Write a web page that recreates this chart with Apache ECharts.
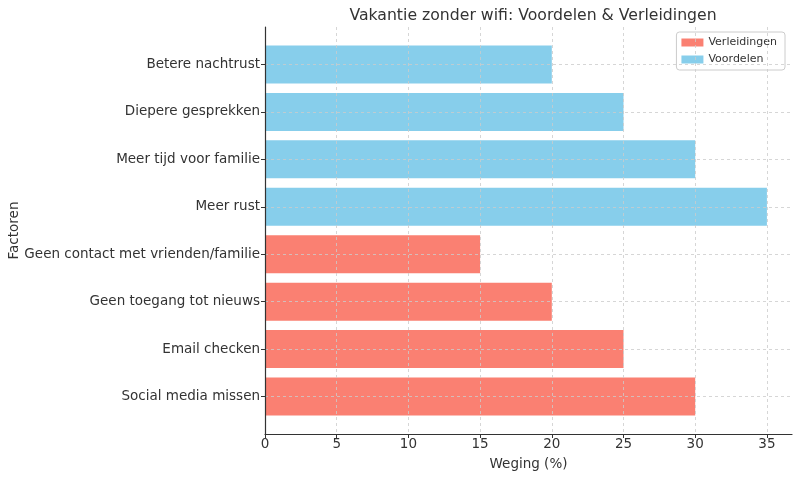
<!DOCTYPE html>
<html><head><meta charset="utf-8">
<script src="https://cdn.jsdelivr.net/npm/echarts@6/dist/echarts.min.js"></script>
<style>html,body{margin:0;padding:0;background:#fff}#c{width:800px;height:477px}</style>
</head><body><div id="c"></div>
<script>
const categories = ["Social media missen","Email checken","Geen toegang tot nieuws","Geen contact met vrienden/familie","Meer rust","Meer tijd voor familie","Diepere gesprekken","Betere nachtrust"];
const verleidingenIdx = [0,1,2,3];
const verleidingenVals = [30,25,20,15];
const voordelenIdx = [4,5,6,7];
const voordelenVals = [35,30,25,20];
const xTicks = [0,5,10,15,20,25,30,35];

const font = "DejaVu Sans";
const chart = echarts.init(document.getElementById('c'), null, {renderer:'canvas'});

function barRender(color){
  return function(params, api){
    const v = api.value(0), y = api.value(1);
    const s = api.coord([0, y]);
    const e = api.coord([v, y]);
    const h = api.size([0, 0.8])[1];
    return {type:'rect', shape:{x:s[0], y:s[1]-h/2, width:e[0]-s[0], height:h}, style:{fill:color}};
  };
}

chart.setOption({
  animation:false,
  title:{text:"Vakantie zonder wifi: Voordelen & Verleidingen", left:528, top:3, textAlign:'center',
    textStyle:{fontFamily:font, fontSize:15.7, fontWeight:'normal', color:'#333'}},
  legend:{orient:'vertical', right:15, top:32, itemWidth:22, itemHeight:8, itemGap:6,
    borderColor:'#ccc', borderWidth:1, borderRadius:3, padding:[5,8,5,5],
    textStyle:{fontFamily:font, fontSize:11, color:'#333'},
    data:[{name:'Verleidingen', icon:'rect'},{name:'Voordelen', icon:'rect'}]},
  grid:{left:265, right:8, top:27, bottom:43, containLabel:false, outerBoundsMode:'none'},
  xAxis:{type:'value', min:0, max:36.75, interval:5, z:5,
    name:'Weging (%)', nameLocation:'middle', nameGap:23, nameMoveOverlap:false,
    nameTextStyle:{fontFamily:font, fontSize:13.5, color:'#333'},
    axisLine:{show:true, onZero:false, lineStyle:{color:'#333', width:1.2}},
    axisTick:{show:true, length:4, lineStyle:{color:'#333'}, customValues:xTicks},
    axisLabel:{fontFamily:font, fontSize:13.5, color:'#333', margin:3, customValues:xTicks},
    splitLine:{show:true, lineStyle:{color:'#ccc', type:[3,3], width:0.8}}},
  yAxis:{type:'value', min:-0.79, max:7.79, z:5,
    name:'Factoren', nameLocation:'middle', nameGap:244, nameRotate:90, nameMoveOverlap:false,
    nameTextStyle:{fontFamily:font, fontSize:13.5, color:'#333'},
    axisLine:{show:true, onZero:false, lineStyle:{color:'#333', width:1.2}},
    axisTick:{show:true, length:4, lineStyle:{color:'#333'}, customValues:[0,1,2,3,4,5,6,7]},
    axisLabel:{fontFamily:font, fontSize:13.5, color:'#333', margin:5, padding:[3,0,0,0],
      customValues:[0,1,2,3,4,5,6,7], formatter:v => categories[Math.round(v)]},
    splitLine:{show:true, lineStyle:{color:'#ccc', type:[3,3], width:0.8}}},
  series:[
    {name:'Verleidingen', type:'custom', z:1, itemStyle:{color:'#FA8072'},
      renderItem:barRender('#FA8072'),
      encode:{x:0, y:1},
      data:verleidingenIdx.map((i,k)=>[verleidingenVals[k], i])},
    {name:'Voordelen', type:'custom', z:1, itemStyle:{color:'#87CEEB'},
      renderItem:barRender('#87CEEB'),
      encode:{x:0, y:1},
      data:voordelenIdx.map((i,k)=>[voordelenVals[k], i])}
  ]
});
</script></body></html>
